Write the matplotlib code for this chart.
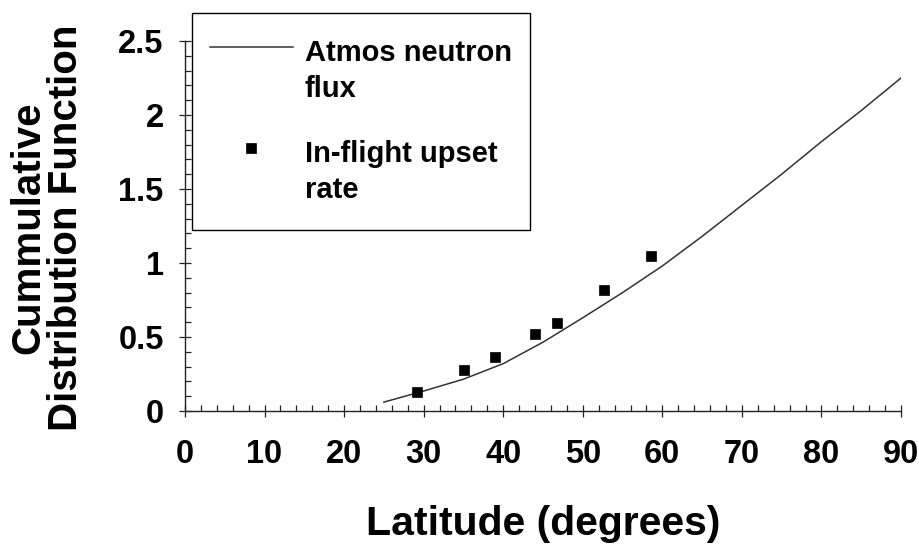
import matplotlib
matplotlib.use("Agg")
import numpy as np
import matplotlib.pyplot as plt
from matplotlib.ticker import MultipleLocator
from matplotlib.legend_handler import HandlerLine2D
from matplotlib.path import Path

# Data
curve_lat = [25, 30, 35, 40, 45, 50, 55, 60, 65, 70, 75, 80, 85, 90]
curve_cdf = [0.06, 0.135, 0.215, 0.32, 0.465, 0.63, 0.80, 0.98, 1.18, 1.39, 1.60, 1.82, 2.03, 2.25]
upset_lat = [29.1, 35.1, 39.0, 44.0, 46.8, 52.7, 58.6]
upset_cdf = [0.126, 0.277, 0.363, 0.522, 0.595, 0.82, 1.045]
x_ticks = [0, 10, 20, 30, 40, 50, 60, 70, 80, 90]
y_ticks = [0, 0.5, 1, 1.5, 2, 2.5]
y_tick_labels = ["0", "0.5", "1", "1.5", "2", "2.5"]
series_names = ["Atmos neutron\nflux", "In-flight upset\nrate"]

plt.rcParams['font.family'] = ['Liberation Sans', 'DejaVu Sans']
plt.rcParams['font.weight'] = 'bold'

W, H = 920, 545
fig = plt.figure(figsize=(W / 100, H / 100), dpi=100)
L, R, T, B = 185, 901, 41, 411
ax = fig.add_axes([L / W, (H - B) / H, (R - L) / W, (B - T) / H])

line, = ax.plot(curve_lat, curve_cdf, color='#333333', lw=1.1, label=series_names[0], zorder=2)
pts, = ax.plot(upset_lat, upset_cdf, ls='none', marker='s', ms=7, color='black',
               mec='black', mew=0.5, label=series_names[1], zorder=3)

ax.set_xlim(0, 90)
ax.set_ylim(0, 2.5)
ax.set_xticks(x_ticks)
ax.set_xticklabels([str(v) for v in x_ticks])
ax.set_yticks(y_ticks)
ax.set_yticklabels(y_tick_labels)
ax.xaxis.set_minor_locator(MultipleLocator(2))
ax.yaxis.set_minor_locator(MultipleLocator(0.1))

for s in ['top', 'right']:
    ax.spines[s].set_visible(False)
for s in ['left', 'bottom']:
    ax.spines[s].set_linewidth(1.0)
    ax.spines[s].set_color('#222222')

ax.tick_params(which='major', direction='inout', length=8.6, width=0.9, color='#222222', labelsize=23.5)
ax.tick_params(which='minor', direction='in', length=4.2, width=0.9, color='#222222')
ax.tick_params(axis='x', which='major', pad=16)
ax.tick_params(axis='y', which='major', pad=11)
for lab in ax.get_xticklabels() + ax.get_yticklabels():
    lab.set_fontweight('bold')

fig.text(543.5 / W, 1 - 535 / H, "Latitude (degrees)", ha='center', va='baseline',
         fontsize=29.5, fontweight='bold')
fig.text(47 / W, 1 - 228 / H, "Cummulative\nDistribution Function", rotation=90,
         ha='center', va='center', multialignment='center', linespacing=1.0,
         fontsize=29, fontweight='bold')


class ShiftedHandler(HandlerLine2D):
    def __init__(self, shift, **kw):
        super().__init__(**kw)
        self.shift = shift

    def create_artists(self, legend, orig_handle, xdescent, ydescent, width, height,
                       fontsize, trans):
        arts = super().create_artists(legend, orig_handle, xdescent, ydescent, width,
                                      height, fontsize, trans)
        for a in arts:
            a.set_ydata(np.asarray(a.get_ydata(), dtype=float) + self.shift)
        return arts


DY = 8  # extra vertical frame padding (pixels)


def tall_box(x0, y0, width, height, mutation_size):
    return Path([(x0, y0 - DY), (x0 + width, y0 - DY), (x0 + width, y0 + height + DY),
                 (x0, y0 + height + DY), (x0, y0 - DY)], closed=True)


leg = ax.legend(handles=[line, pts], loc='upper left',
                bbox_to_anchor=(192 / W, 1 - (13 + DY) / H),
                bbox_transform=fig.transFigure, borderaxespad=0,
                prop={'size': 21, 'weight': 'bold'}, frameon=True, fancybox=False,
                framealpha=1, edgecolor='black', borderpad=0.62, handlelength=2.84,
                handletextpad=0.4, labelspacing=1.25,
                handler_map={line: ShiftedHandler(18), pts: ShiftedHandler(18)})
leg.get_frame().set_linewidth(1.0)
leg.get_frame().set_boxstyle(tall_box)
for t in leg.get_texts():
    t.set_linespacing(1.38)

fig.savefig("out.png", dpi=100)
